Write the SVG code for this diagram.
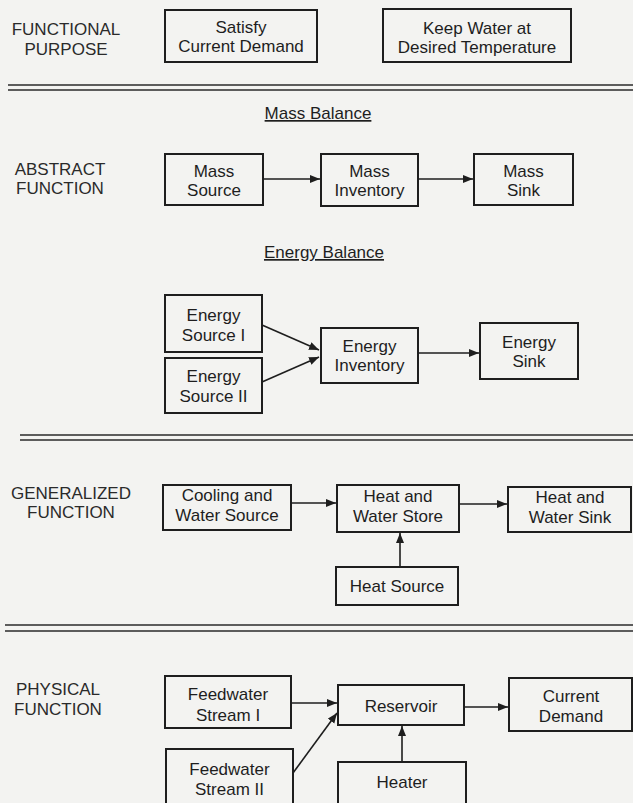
<svg xmlns="http://www.w3.org/2000/svg" width="633" height="803" viewBox="0 0 633 803">
  <defs>
    <marker id="ah" markerUnits="userSpaceOnUse" markerWidth="11" markerHeight="9" refX="10" refY="4" orient="auto">
      <path d="M0,0 L10,4 L0,8 z" fill="#1e1e1e"/>
    </marker>
    <style>
      .bg { fill: #f3f3f1; }
      .box { fill: none; stroke: #1e1e1e; stroke-width: 2; }
      .t { font-family: "Liberation Sans", Arial, sans-serif; font-size: 17px; fill: #1e1e1e; text-anchor: middle; }
      .hd { font-family: "Liberation Sans", Arial, sans-serif; font-size: 17px; fill: #2a2a2a; text-anchor: middle; }
      .sep { stroke: #2a2a2a; stroke-width: 1.5; fill: none; }
      .con { stroke: #1e1e1e; stroke-width: 1.6; fill: none; marker-end: url(#ah); }
    </style>
  </defs>
  <rect class="bg" x="0" y="0" width="633" height="803"/>

  <!-- separators -->
  <g id="separators">
    <line class="sep" x1="8" y1="85" x2="633" y2="85"/>
    <line class="sep" x1="8" y1="90" x2="633" y2="90"/>
    <line class="sep" x1="20" y1="435" x2="633" y2="435"/>
    <line class="sep" x1="20" y1="440" x2="633" y2="440"/>
    <line class="sep" x1="5" y1="625" x2="633" y2="625"/>
    <line class="sep" x1="5" y1="631" x2="633" y2="631"/>
  </g>

  <!-- level headings -->
  <g id="headings">
    <text class="hd" x="66" y="35">FUNCTIONAL</text>
    <text class="hd" x="66" y="55">PURPOSE</text>
    <text class="hd" x="60" y="175">ABSTRACT</text>
    <text class="hd" x="60" y="194">FUNCTION</text>
    <text class="hd" x="71" y="499">GENERALIZED</text>
    <text class="hd" x="71" y="518">FUNCTION</text>
    <text class="hd" x="58" y="695">PHYSICAL</text>
    <text class="hd" x="58" y="715">FUNCTION</text>
    <text class="t" x="318" y="119" text-decoration="underline">Mass Balance</text>
    <text class="t" x="324" y="258" text-decoration="underline">Energy Balance</text>
  </g>

  <!-- Functional purpose -->
  <g id="satisfy-demand">
    <rect class="box" x="165" y="10" width="152" height="52"/>
    <text class="t" x="241" y="33">Satisfy</text>
    <text class="t" x="241" y="52">Current Demand</text>
  </g>
  <g id="keep-water">
    <rect class="box" x="383" y="9" width="188" height="53"/>
    <text class="t" x="477" y="34">Keep Water at</text>
    <text class="t" x="477" y="53">Desired Temperature</text>
  </g>

  <!-- Abstract function: mass -->
  <g id="mass-source">
    <rect class="box" x="165" y="154" width="98" height="51"/>
    <text class="t" x="214" y="177">Mass</text>
    <text class="t" x="214" y="196">Source</text>
  </g>
  <g id="mass-inventory">
    <rect class="box" x="321" y="154" width="97" height="52"/>
    <text class="t" x="369.5" y="177">Mass</text>
    <text class="t" x="369.5" y="196">Inventory</text>
  </g>
  <g id="mass-sink">
    <rect class="box" x="474" y="154" width="99" height="51"/>
    <text class="t" x="523.5" y="177">Mass</text>
    <text class="t" x="523.5" y="196">Sink</text>
  </g>

  <!-- Abstract function: energy -->
  <g id="energy-source-1">
    <rect class="box" x="165" y="295" width="97" height="57"/>
    <text class="t" x="213.5" y="321">Energy</text>
    <text class="t" x="213.5" y="341">Source I</text>
  </g>
  <g id="energy-source-2">
    <rect class="box" x="165" y="358" width="97" height="55"/>
    <text class="t" x="213.5" y="382">Energy</text>
    <text class="t" x="213.5" y="402">Source II</text>
  </g>
  <g id="energy-inventory">
    <rect class="box" x="321" y="328" width="97" height="55"/>
    <text class="t" x="369.5" y="352">Energy</text>
    <text class="t" x="369.5" y="371">Inventory</text>
  </g>
  <g id="energy-sink">
    <rect class="box" x="480" y="323" width="98" height="56"/>
    <text class="t" x="529" y="348">Energy</text>
    <text class="t" x="529" y="367">Sink</text>
  </g>

  <!-- Generalized function -->
  <g id="cooling-water-source">
    <rect class="box" x="163" y="485" width="128" height="45"/>
    <text class="t" x="227" y="501">Cooling and</text>
    <text class="t" x="227" y="521">Water Source</text>
  </g>
  <g id="heat-water-store">
    <rect class="box" x="337" y="485" width="122" height="47"/>
    <text class="t" x="398" y="502">Heat and</text>
    <text class="t" x="398" y="522">Water Store</text>
  </g>
  <g id="heat-water-sink">
    <rect class="box" x="508" y="487" width="123" height="45"/>
    <text class="t" x="570" y="503">Heat and</text>
    <text class="t" x="570" y="523">Water Sink</text>
  </g>
  <g id="heat-source">
    <rect class="box" x="336" y="567" width="122" height="38"/>
    <text class="t" x="397" y="592">Heat Source</text>
  </g>

  <!-- Physical function -->
  <g id="feedwater-stream-1">
    <rect class="box" x="165" y="676" width="126" height="52"/>
    <text class="t" x="228" y="700">Feedwater</text>
    <text class="t" x="228" y="721">Stream I</text>
  </g>
  <g id="reservoir">
    <rect class="box" x="338" y="685" width="126" height="40"/>
    <text class="t" x="401" y="712">Reservoir</text>
  </g>
  <g id="current-demand">
    <rect class="box" x="509" y="678" width="123" height="53"/>
    <text class="t" x="571" y="702">Current</text>
    <text class="t" x="571" y="722">Demand</text>
  </g>
  <g id="feedwater-stream-2">
    <rect class="box" x="166" y="749" width="127" height="64"/>
    <text class="t" x="229.5" y="775">Feedwater</text>
    <text class="t" x="229.5" y="795">Stream II</text>
  </g>
  <g id="heater">
    <rect class="box" x="338" y="762" width="128" height="50"/>
    <text class="t" x="402" y="788">Heater</text>
  </g>

  <!-- connectors -->
  <g id="connectors">
    <line class="con" x1="263" y1="179" x2="320" y2="179"/>
    <line class="con" x1="418" y1="179" x2="473" y2="179"/>
    <line class="con" x1="262" y1="325" x2="319" y2="350"/>
    <line class="con" x1="262" y1="382" x2="319" y2="357"/>
    <line class="con" x1="418" y1="353" x2="479" y2="353"/>
    <line class="con" x1="291" y1="503" x2="336" y2="503"/>
    <line class="con" x1="459" y1="504" x2="507" y2="504"/>
    <line class="con" x1="400" y1="567" x2="400" y2="533"/>
    <line class="con" x1="291" y1="703" x2="337" y2="703"/>
    <line class="con" x1="464" y1="707" x2="508" y2="707"/>
    <line class="con" x1="293" y1="773" x2="337" y2="713"/>
    <line class="con" x1="402" y1="762" x2="402" y2="726"/>
  </g>
</svg>
